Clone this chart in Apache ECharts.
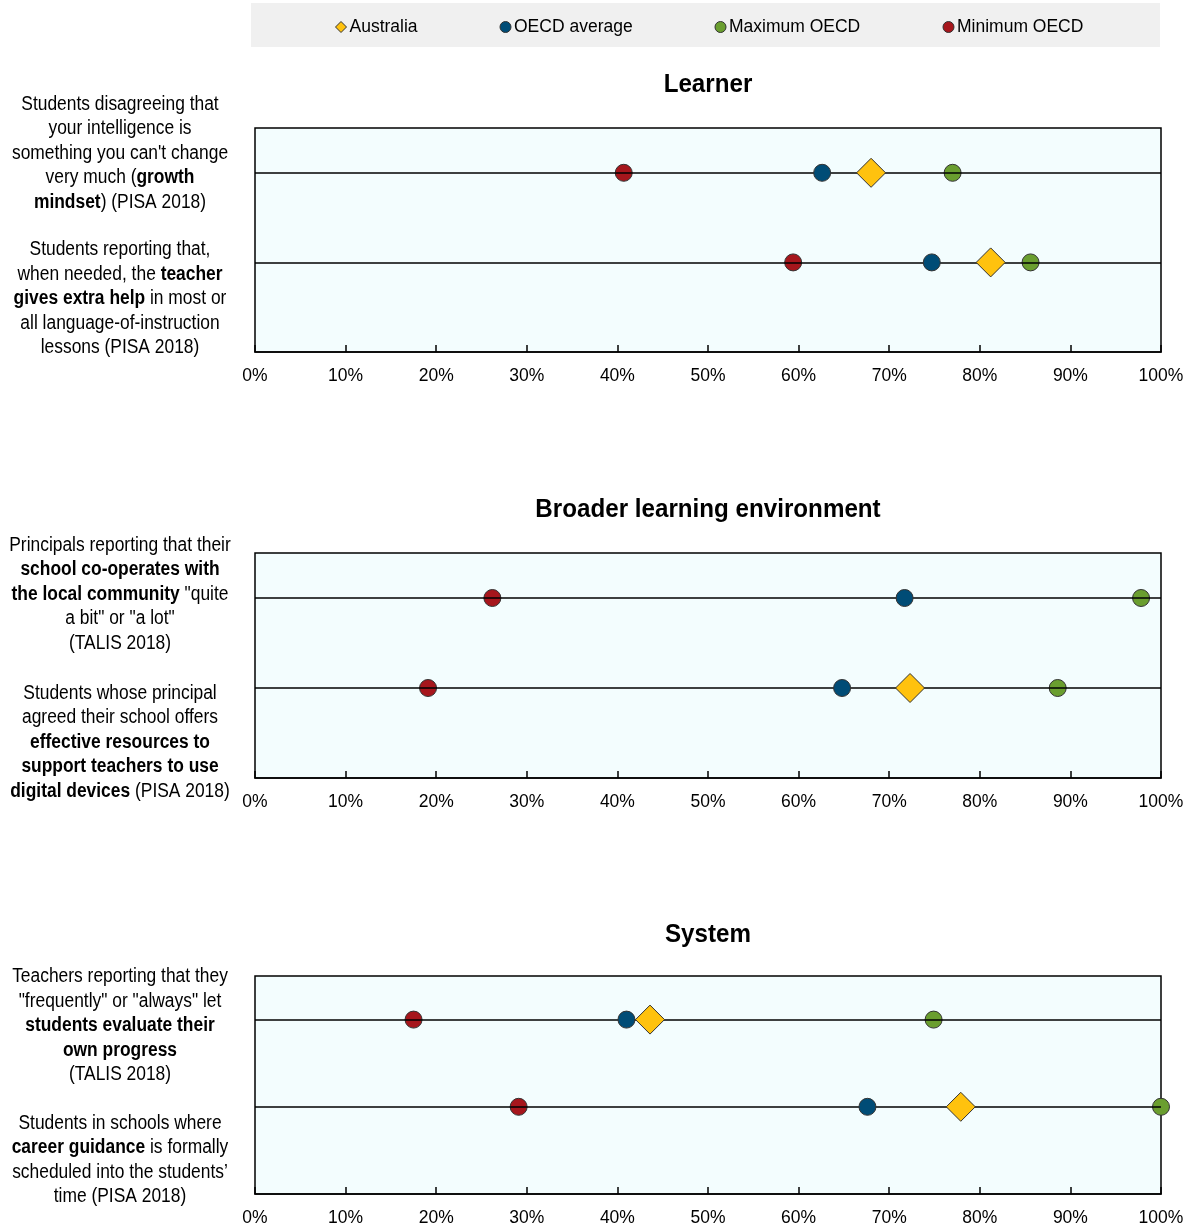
<!DOCTYPE html>
<html><head><meta charset="utf-8">
<script src="https://cdn.jsdelivr.net/npm/echarts@6/dist/echarts.min.js"></script>
<style>html,body{margin:0;padding:0;background:#fff}#c{width:1190px;height:1229px}</style>
</head><body><div id="c"></div>
<script>
// ---- data ----
const panelTitles = ['Learner', 'Broader learning environment', 'System'];
const rowLabels = [
  ["Students disagreeing that\nyour intelligence is\nsomething you can't change\nvery much ({b|growth}\n{b|mindset}) (PISA 2018)",
   "Students reporting that,\nwhen needed, the {b|teacher}\n{b|gives extra help} in most or\nall language-of-instruction\nlessons (PISA 2018)"],
  ["Principals reporting that their\n{b|school co-operates with}\n{b|the local community} \"quite\na bit\" or \"a lot\"\n(TALIS 2018)",
   "Students whose principal\nagreed their school offers\n{b|effective resources to}\n{b|support teachers to use}\n{b|digital devices} (PISA 2018)"],
  ["Teachers reporting that they\n\"frequently\" or \"always\" let\n{b|students evaluate their}\n{b|own progress}\n(TALIS 2018)",
   "Students in schools where\n{b|career guidance} is formally\nscheduled into the students’\ntime (PISA 2018)"]
];
const seriesNames = ['Australia', 'OECD average', 'Maximum OECD', 'Minimum OECD'];
// values per panel: [row1, row2]
const australia = [[68.0, 81.2], [null, 72.3], [43.6, 77.9]];
const oecdAverage = [[62.6, 74.7], [71.7, 64.8], [41.0, 67.6]];
const maximumOECD = [[77.0, 85.6], [97.8, 88.6], [74.9, 100]];
const minimumOECD = [[40.7, 59.4], [26.2, 19.1], [17.5, 29.1]];

// ---- layout ----
const FONT = "'Liberation Sans','Arimo',Arial,sans-serif";
const grids = [
  {left: 255, top: 128, width: 906, height: 224},
  {left: 255, top: 553, width: 906, height: 225},
  {left: 255, top: 976, width: 906, height: 218}
];
const titleCenters = [85, 510, 935];
const rowY = [1, 3]; // positions on hidden y axis (0..5)
const labelCenters = [[153, 298.5], [594, 742], [1025.5, 1160]];
const legendLefts = [330, 494.5, 709.5, 937.5];
const colors = {
  'Australia': '#FFC20E', 'OECD average': '#004C76',
  'Maximum OECD': '#6A9E2F', 'Minimum OECD': '#A6161C'
};
const valueSets = {
  'Australia': australia, 'OECD average': oecdAverage,
  'Maximum OECD': maximumOECD, 'Minimum OECD': minimumOECD
};

const graphics = [
  {type: 'rect', shape: {x: 251, y: 3, width: 909, height: 44}, style: {fill: '#F0F0F0'}, z: -10}
];
panelTitles.forEach((t, i) => graphics.push({
  type: 'text', x: 708, y: titleCenters[i], scaleX: 0.93,
  style: {text: t, align: 'center', verticalAlign: 'middle', fill: '#000',
    fontFamily: FONT, fontSize: 26, fontWeight: 'bold'}
}));
rowLabels.forEach((pair, p) => pair.forEach((txt, r) => graphics.push({
  type: 'text', x: 120, y: labelCenters[p][r], scaleX: 0.87,
  style: {
    text: txt, align: 'center', verticalAlign: 'middle', fill: '#000',
    fontFamily: FONT, fontSize: 20, lineHeight: 24.5,
    rich: {b: {fontWeight: 'bold', fontFamily: FONT, fontSize: 20, lineHeight: 24.5, fill: '#000'}}
  }
})));

const option = {
  animation: false,
  backgroundColor: '#fff',
  textStyle: {fontFamily: FONT},
  legend: seriesNames.map((n, i) => ({
    data: [{name: n, icon: n === 'Australia' ? 'diamond' : 'circle'}],
    left: legendLefts[i], top: 13, itemWidth: 11, itemHeight: 11,
    textStyle: {fontFamily: FONT, fontSize: 17.5, color: '#000', padding: [0, 0, 0, -2]},
    itemStyle: {borderColor: '#333', borderWidth: 1}
  })),
  graphic: graphics,
  grid: grids.map(g => Object.assign({show: true, backgroundColor: '#F3FDFE', borderColor: '#000', borderWidth: 1.5}, g)),
  xAxis: grids.map((g, i) => ({
    type: 'value', gridIndex: i, min: 0, max: 100, interval: 10, position: 'bottom',
    axisLine: {show: true, onZero: false, lineStyle: {color: '#000', width: 1.5}},
    axisTick: {show: true, inside: true, length: 7, lineStyle: {color: '#000', width: 1.5}},
    splitLine: {show: false},
    axisLabel: {formatter: v => v + '%', fontFamily: FONT, fontSize: 17.5, color: '#000', margin: 15}
  })),
  yAxis: grids.map((g, i) => ({
    type: 'value', gridIndex: i, min: 0, max: 5, inverse: true, show: false
  })),
  series: []
};

// draw order: min, max, average, Australia on top
const drawOrder = ['Minimum OECD', 'Maximum OECD', 'OECD average', 'Australia'];
for (let p = 0; p < 3; p++) {
  drawOrder.forEach((name, k) => {
    const vals = valueSets[name][p];
    const s = {
      name, type: 'scatter', xAxisIndex: p, yAxisIndex: p,
      symbol: name === 'Australia' ? 'diamond' : 'circle',
      symbolSize: name === 'Australia' ? 29 : 17,
      itemStyle: {color: colors[name], borderColor: '#333', borderWidth: 1, opacity: 1},
      z: 3 + k,
      data: vals.map((v, r) => v == null ? null : [v, rowY[r]]).filter(d => d)
    };
    if (k === 0) {
      s.markLine = {
        silent: true, symbol: 'none', label: {show: false},
        lineStyle: {color: '#000', width: 1.5, type: 'solid'},
        data: rowY.map(y => ({yAxis: y}))
      };
    }
    option.series.push(s);
  });
}

echarts.init(document.getElementById('c')).setOption(option);
</script>
</body></html>
